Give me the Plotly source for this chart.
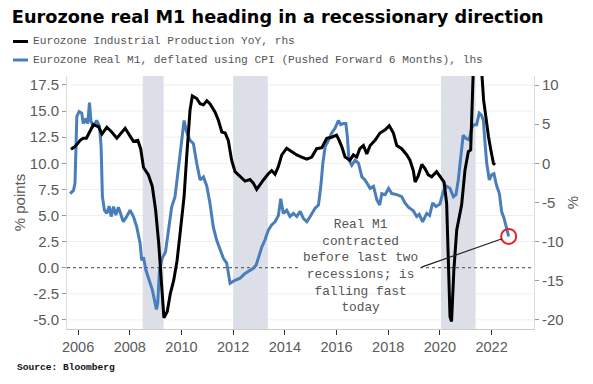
import plotly.graph_objects as go

# ---------------- data ----------------
ip_year = [2005.72, 2005.88, 2006.08, 2006.2, 2006.32, 2006.45, 2006.59, 2006.79, 2006.92,
           2007.11, 2007.3, 2007.5, 2007.65, 2007.82, 2008.01, 2008.14, 2008.31, 2008.42,
           2008.53, 2008.72, 2008.87, 2009.0, 2009.12, 2009.23, 2009.32, 2009.45, 2009.57,
           2009.7, 2009.83, 2009.96, 2010.1, 2010.2, 2010.33, 2010.42, 2010.59, 2010.72,
           2010.85, 2010.98, 2011.1, 2011.3, 2011.43, 2011.56, 2011.69, 2011.81, 2011.94,
           2012.07, 2012.27, 2012.46, 2012.65, 2012.78, 2012.91, 2013.04, 2013.17, 2013.36,
           2013.49, 2013.62, 2013.75, 2013.88, 2014.07, 2014.27, 2014.46, 2014.65, 2014.85,
           2015.04, 2015.23, 2015.43, 2015.62, 2015.81, 2016.0, 2016.1, 2016.2, 2016.33,
           2016.52, 2016.65, 2016.78, 2016.9, 2017.04, 2017.17, 2017.3, 2017.49, 2017.68,
           2017.88, 2018.04, 2018.2, 2018.33, 2018.52, 2018.72, 2018.84, 2018.97, 2019.04,
           2019.16, 2019.3, 2019.42, 2019.55, 2019.68, 2019.87, 2020.0, 2020.16, 2020.26,
           2020.32, 2020.39, 2020.45, 2020.54, 2020.65, 2020.78, 2020.84, 2020.97, 2021.1,
           2021.19, 2021.27, 2021.33, 2021.42, 2021.52, 2021.6, 2021.69, 2021.79, 2021.88,
           2021.97, 2022.07, 2022.13]
ip_yoy = [1.8, 2.13, 2.93, 3.2, 3.2, 4.0, 4.93, 4.67, 3.73,
          4.6, 4.0, 3.2, 3.87, 4.47, 3.47, 2.8, 2.93, 1.87,
          -0.53, -1.47, -2.93, -6.0, -10.27, -15.73, -19.73, -18.93, -16.6,
          -14.93, -12.4, -8.53, -4.27, 0.8, 6.8, 8.6, 8.27, 7.6,
          7.47, 8.0, 7.6, 6.53, 5.47, 4.0, 3.87, 2.93, 0.4,
          -1.07, -1.73, -2.27, -2.07, -2.53, -3.33, -2.8, -2.13, -1.33,
          -0.93, -1.4, -0.4, 1.07, 1.93, 1.47, 1.07, 0.8, 0.53,
          0.8, 1.87, 2.0, 3.2, 3.33, 3.6, 2.93, 2.13, 0.8,
          0.4, 1.07, 0.8, 1.87, 2.27, 1.2, 2.27, 2.93, 3.87,
          4.27, 4.8, 3.87, 2.27, 1.87, 1.07, 0.4, -0.93, -2.4,
          -1.6, -0.13, -0.67, -1.47, -1.73, -1.07, -1.73, -2.4, -5.1,
          -11.5, -19.6, -20.2, -13.6, -8.5, -6.0, -5.3, -0.85, 1.5,
          1.7, 6.8, 12.5, 25.0, 22.0, 12.5, 8.1, 5.5, 3.4,
          1.7, 0.0, -0.2]

m1_year = [2005.69, 2005.82, 2005.88, 2005.95, 2006.04, 2006.14, 2006.2, 2006.3, 2006.37,
           2006.44, 2006.5, 2006.59, 2006.72, 2006.83, 2006.89, 2006.94, 2007.02, 2007.11,
           2007.2, 2007.28, 2007.37, 2007.46, 2007.56, 2007.66, 2007.75, 2007.88, 2008.01,
           2008.14, 2008.27, 2008.4, 2008.46, 2008.53, 2008.62, 2008.75, 2008.87, 2009.03,
           2009.08, 2009.15, 2009.25, 2009.38, 2009.51, 2009.62, 2009.75, 2009.88, 2010.0,
           2010.1, 2010.2, 2010.33, 2010.46, 2010.59, 2010.72, 2010.85, 2010.98, 2011.1,
           2011.23, 2011.36, 2011.49, 2011.62, 2011.75, 2011.88, 2012.07, 2012.27, 2012.46,
           2012.65, 2012.78, 2012.89, 2012.98, 2013.11, 2013.23, 2013.36, 2013.49, 2013.62,
           2013.75, 2013.84, 2013.94, 2014.07, 2014.2, 2014.33, 2014.46, 2014.59, 2014.72,
           2014.85, 2014.98, 2015.17, 2015.3, 2015.39, 2015.47, 2015.56, 2015.69, 2015.81,
           2015.94, 2016.07, 2016.16, 2016.26, 2016.36, 2016.42, 2016.48, 2016.59, 2016.72,
           2016.85, 2016.98, 2017.1, 2017.3, 2017.43, 2017.56, 2017.67, 2017.75, 2017.88,
           2018.01, 2018.14, 2018.33, 2018.52, 2018.65, 2018.78, 2018.97, 2019.1, 2019.2,
           2019.33, 2019.49, 2019.6, 2019.72, 2019.85, 2020.0, 2020.13, 2020.26, 2020.39,
           2020.52, 2020.62, 2020.71, 2020.81, 2020.9, 2021.0, 2021.13, 2021.23, 2021.32,
           2021.42, 2021.52, 2021.61, 2021.68, 2021.74, 2021.81, 2021.91, 2022.0, 2022.09,
           2022.19, 2022.3, 2022.39, 2022.48, 2022.55, 2022.66]
m1_real = [7.1, 7.4, 8.1, 14.5, 14.95, 14.8, 13.8, 14.3, 13.8,
           15.8, 14.0, 13.6, 14.1, 13.5, 11.6, 6.8, 5.5, 5.2,
           5.9, 4.9, 5.85, 5.05, 5.8, 5.05, 4.4, 4.9, 5.5,
           4.9, 3.9, 2.3, 0.7, 1.0, -0.2, -1.2, -2.1, -4.0,
           -3.4, -0.2, 0.9, 1.5, 3.6, 5.8, 6.8, 9.3, 12.0,
           14.1, 13.0, 12.2, 11.9, 10.0, 8.4, 8.7, 7.8, 6.2,
           3.9, 2.65, 1.7, 0.9, 0.45, -1.5, -1.2, -1.0, -0.55,
           -0.3, -0.06, 0.26, 1.05, 2.0, 2.65, 3.6, 4.1, 4.4,
           5.0, 6.6, 5.2, 5.5, 4.9, 5.2, 4.9, 5.4, 4.7,
           4.4, 4.9, 5.7, 6.0, 7.8, 10.0, 11.6, 12.2, 12.9,
           13.35, 14.1, 13.7, 13.8, 13.8, 12.5, 10.3, 9.8, 10.3,
           10.0, 8.7, 8.4, 7.6, 7.8, 6.5, 6.0, 7.1, 7.0,
           7.6, 7.1, 7.0, 6.8, 6.2, 5.8, 5.45, 4.9, 5.1,
           4.4, 5.2, 5.0, 6.2, 5.85, 6.1, 7.3, 7.8, 7.6,
           6.8, 7.0, 8.4, 10.6, 12.7, 12.4, 12.25, 13.4, 13.7,
           13.7, 14.8, 14.6, 14.1, 12.1, 10.0, 8.4, 8.9, 9.0,
           7.9, 7.1, 5.35, 4.75, 4.1, 3.0]

rec_start = [2008.5, 2012.0, 2020.04]
rec_end = [2009.31, 2013.34, 2021.38]

x_ticks = [2006, 2008, 2010, 2012, 2014, 2016, 2018, 2020, 2022]
left_ticks = [-5.0, -2.5, 0.0, 2.5, 5.0, 7.5, 10.0, 12.5, 15.0, 17.5]
left_tick_text = ["-5.0", "-2.5", "0.0", "2.5", "5.0", "7.5", "10.0", "12.5", "15.0", "17.5"]
right_ticks = [-20, -15, -10, -5, 0, 5, 10]
right_tick_text = ["-20", "-15", "-10", "-5", "0", "5", "10"]

ip_name = "Eurozone Industrial Production YoY, rhs"
m1_name = "Eurozone Real M1, deflated using CPI (Pushed Forward 6 Months), lhs"
note_text = "Real M1<br>contracted<br>before last two<br>recessions; is<br>falling fast<br>today"

note_pos = (2016.91, 0.15)
note_gap = (2014.51, 2019.23)  # the zero line is hidden behind the note between these years

# ---------------- figure ----------------
SANS = "Liberation Sans"
MONO = "Liberation Mono"
TICK_COLOR = "#5a5a5a"
IP_COLOR = "#000000"
M1_COLOR = "#4a7ebb"

W, H = 593, 384
ML, MR, MT, MB = 67, 59, 76, 55
PW, PH = W - ML - MR, H - MT - MB


def px_x(p):
    return (p - ML) / PW


def px_y(p):
    return (H - MB - p) / PH


fig = go.Figure()

fig.add_trace(go.Scatter(
    x=ip_year, y=ip_yoy, yaxis="y2", mode="lines", name=ip_name,
    line=dict(color=IP_COLOR, width=3)))
fig.add_trace(go.Scatter(
    x=m1_year, y=m1_real, yaxis="y", mode="lines", name=m1_name,
    line=dict(color=M1_COLOR, width=3)))
fig.add_trace(go.Scatter(
    x=[m1_year[-1]], y=[m1_real[-1]], yaxis="y", mode="markers", showlegend=False,
    marker=dict(symbol="circle-open", size=15, color="#e3262d", line=dict(width=2, color="#e3262d"))))

# faint horizontal gridlines at the lhs ticks (drawn first so the recession bands cover them)
for t in left_ticks:
    if t != 0.0:
        fig.add_shape(type="line", xref="paper", x0=0, x1=1, yref="y", y0=t, y1=t,
                      line=dict(color="#efefef", width=1), layer="below")

for s, e in zip(rec_start, rec_end):
    fig.add_shape(type="rect", xref="x", yref="paper", x0=s, x1=e, y0=0, y1=1,
                  fillcolor="#dcdfe7", line_width=0, layer="below")

# dashed zero line (lhs), interrupted where the note sits
for x0, x1 in [(2005.57, note_gap[0]), (note_gap[1], 2023.64)]:
    fig.add_shape(type="line", xref="x", x0=x0, x1=x1, yref="y", y0=0, y1=0,
                  line=dict(color="#666666", width=1.3, dash="3px,3px"), layer="below")

# legend drawn as short line keys + text, Bloomberg style
for row_y, name, color in [(41.5, ip_name, IP_COLOR), (60, m1_name, M1_COLOR)]:
    fig.add_shape(type="line", xref="paper", yref="paper",
                  x0=px_x(13), x1=px_x(28), y0=px_y(row_y), y1=px_y(row_y),
                  line=dict(color=color, width=3))
    fig.add_annotation(xref="paper", yref="paper", x=px_x(31), y=px_y(row_y),
                       xanchor="left", yanchor="middle", text=name, showarrow=False,
                       font=dict(family=MONO, size=11.2, color="#555555"))

fig.add_annotation(
    x=note_pos[0], y=note_pos[1], xref="x", yref="y", text=note_text,
    showarrow=False, align="center",
    font=dict(family=MONO, size=12.8, color="#555555"))
fig.add_annotation(
    x=m1_year[-1], y=m1_real[-1], xref="x", yref="y",
    ax=note_gap[1], ay=0.0, axref="x", ayref="y",
    text="", showarrow=True, arrowhead=0, arrowwidth=1.2, arrowcolor="#222222", standoff=7)

fig.add_annotation(
    xref="paper", yref="paper", x=px_x(15), y=px_y(367.5), xanchor="left", yanchor="middle",
    text="<b>Source: Bloomberg</b>", showarrow=False,
    font=dict(family=MONO, size=9.6, color="#111111"))

fig.update_layout(
    width=W, height=H,
    margin=dict(l=ML, r=MR, t=MT, b=MB),
    paper_bgcolor="#ffffff", plot_bgcolor="#ffffff",
    showlegend=False,
    title=dict(text="<b>Eurozone real M1 heading in a recessionary direction</b>",
               x=0.02, xref="container", xanchor="left",
               y=0.956, yref="container", yanchor="middle",
               font=dict(family="DejaVu Sans", size=17.7, color="#000000")),
    xaxis=dict(range=[2005.57, 2023.64], tickvals=x_ticks, tickformat="d", automargin=False,
               ticks="outside", ticklen=5, tickcolor="#333333", showline=True,
               linecolor="#cccccc", showgrid=False, zeroline=False,
               tickfont=dict(family=SANS, size=14.5, color=TICK_COLOR)),
    yaxis=dict(range=[-5.87, 18.36], tickvals=left_ticks, ticktext=left_tick_text, automargin=False,
               ticks="outside", ticklen=4, tickcolor="#999999", showline=True,
               linecolor="#dddddd", showgrid=False, zeroline=False,
               tickfont=dict(family=SANS, size=15, color=TICK_COLOR),
               title=dict(text="% points", font=dict(family=SANS, size=15, color=TICK_COLOR), standoff=0)),
    yaxis2=dict(range=[-21.16, 11.15], tickvals=right_ticks, ticktext=right_tick_text, automargin=False,
                overlaying="y", side="right", ticks="outside", ticklen=4, tickcolor="#999999",
                showline=True, linecolor="#dddddd", showgrid=False, zeroline=False,
                tickfont=dict(family=SANS, size=15, color=TICK_COLOR),
                title=dict(text="%", font=dict(family=SANS, size=15, color=TICK_COLOR), standoff=4)),
)

fig.write_html("out.html", config={"displayModeBar": False},
               post_script="document.body.style.margin='0px';")
